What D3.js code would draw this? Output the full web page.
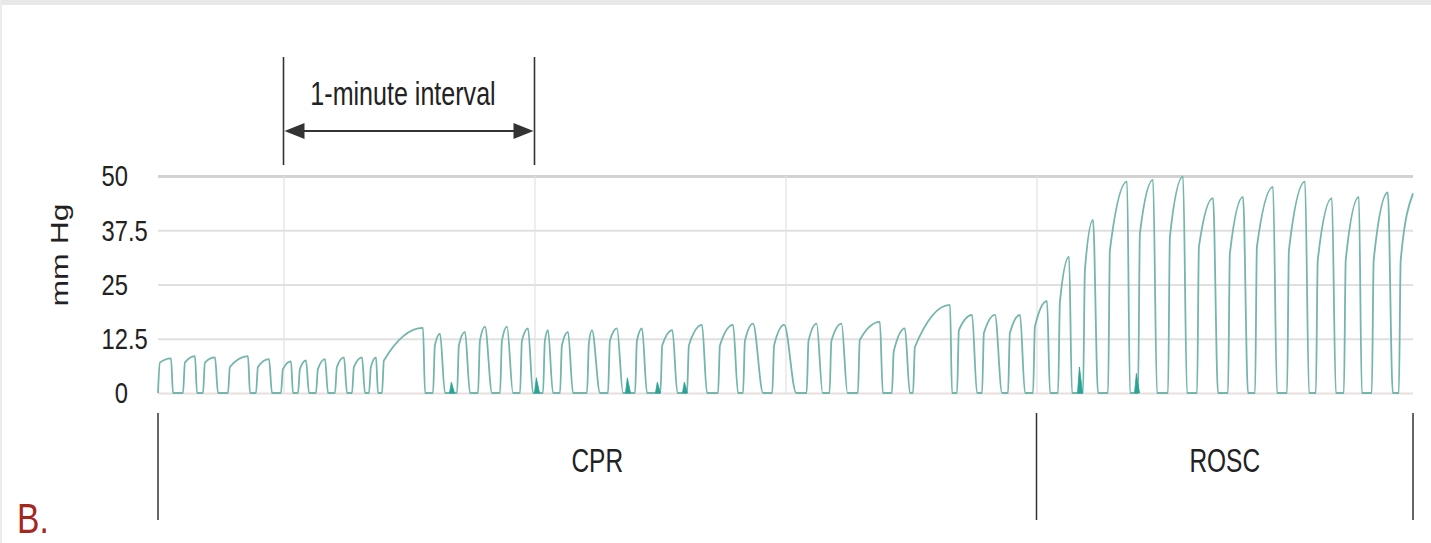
<!DOCTYPE html>
<html><head><meta charset="utf-8">
<script src="https://cdn.jsdelivr.net/npm/d3@7"></script>
<style>
html,body{margin:0;padding:0;background:#fff;}
svg{display:block;}
text{font-family:"Liberation Sans", Arial, Helvetica, sans-serif;}
</style></head><body>
<svg id="chart" width="1431" height="543"></svg>
<script>
// ---- data (time in seconds, values in mm Hg) ----
const yTicks = [0, 12.5, 25, 37.5, 50];
const minuteGrid = [30, 90, 150, 210];
const intervalSpan = [30, 90];
const intervalLabel = "1-minute interval";
const phaseBounds = [0, 210, 300];
const phaseLabels = ["CPR", "ROSC"];
const yLabel = "mm Hg";
const panelLabel = "B.";

const breathStart = [0.0, 5.98, 10.76, 16.73, 23.43, 29.40, 33.47, 37.77, 42.31, 46.38, 50.44, 53.55,
  65.74, 71.48, 76.50, 81.76, 86.54, 92.03, 96.10, 102.55, 107.57, 114.03, 120.09, 126.46, 133.88,
  139.85, 146.83, 155.05, 160.52, 167.30, 175.43, 180.48, 191.00, 196.98, 203.19, 209.17,
  215.15, 221.12, 227.10, 234.27, 241.44, 248.38, 255.78, 262.24, 269.89, 276.78, 283.47, 290.15, 296.61];
const breathEnd = [3.59, 9.32, 14.34, 21.99, 27.25, 32.27, 36.10, 40.64, 45.18, 49.48, 52.59, 63.83,
  68.61, 74.58, 79.84, 84.86, 89.64, 94.42, 99.21, 105.66, 111.16, 116.90, 124.16, 131.24, 138.66,
  144.64, 152.56, 158.88, 164.82, 173.27, 179.74, 189.81, 195.78, 201.76, 207.26, 213.23,
  218.49, 224.71, 232.36, 238.81, 245.98, 253.39, 260.56, 267.50, 275.15, 281.56, 287.77, 295.17, null];
const breathPeakTime = [3.11, 8.84, 13.63, 21.51, 26.54, 31.79, 35.38, 39.92, 44.46, 48.77, 52.11, 63.35,
  67.41, 73.39, 78.17, 83.43, 88.45, 93.23, 98.01, 103.75, 109.72, 115.70, 122.96, 130.04, 137.46,
  142.24, 149.69, 157.44, 163.39, 172.56, 178.54, 189.33, 194.59, 200.08, 206.06, 212.52,
  217.78, 223.51, 231.65, 237.86, 245.03, 252.20, 259.37, 266.54, 274.19, 280.61, 287.06, 293.98, 300];
const breathPlateau = [7.0, 7.0, 7.0, 6.0, 6.0, 5.5, 5.5, 5.5, 6.0, 6.0, 6.0, 7.5,
  11, 11, 12, 12, 12, 12, 11, 11.5, 12, 12, 11, 11, 11,
  12, 11, 12, 12, 12.2, 9.6, 10.6, 14.5, 13.8, 13.8, 15.3,
  21, 28.3, 32.9, 36.8, 36, 33.7, 32.2, 33.7, 32.9, 30.6, 30.6, 30.6, 30.6];
const breathPeak = [8.0, 8.5, 8.2, 8.5, 7.8, 7.3, 7.5, 7.8, 8.2, 8.2, 8.2, 15,
  13.7, 14.1, 15.3, 15.3, 14.9, 14.5, 14.1, 14.5, 14.9, 14.9, 14.5, 15.7, 15.7,
  16.0, 15.7, 16.0, 16.0, 16.4, 14.9, 20.3, 18, 18, 18, 21.2,
  31.4, 39.9, 48.7, 49.1, 49.9, 44.9, 45.2, 47.5, 48.7, 44.9, 45.2, 46.2, 46];
const artifactTime = [70.28, 90.60, 112.35, 119.52, 125.97, 220.41, 234.03];
const artifactHeight = [2.5, 3.5, 3.5, 2.5, 2.5, 6, 4.5];

// ---- drawing ----
const svg = d3.select("#chart");
const x = d3.scaleLinear().domain([0, 300]).range([158, 1413]);
const y = d3.scaleLinear().domain([0, 50]).range([393, 176]);
const riseTime = 0.45;

svg.append("rect").attr("x", 0).attr("y", 0).attr("width", 1431).attr("height", 5).attr("fill", "#e8e8e8");
svg.append("rect").attr("x", 0).attr("y", 0).attr("width", 2).attr("height", 543).attr("fill", "#ececec");

// horizontal grid
const gy = svg.append("g").attr("transform", `translate(${x(0)},0)`)
  .call(d3.axisLeft(y).tickValues(yTicks).tickSize(-(x.range()[1] - x.range()[0])).tickFormat(""));
gy.select(".domain").remove();
gy.selectAll(".tick line")
  .attr("stroke", d => d === 0 ? "#eadfe0" : (d === 50 ? "#d2d2d2" : "#e0e0e0"))
  .attr("stroke-width", d => d === 50 ? 3 : 2);

// vertical minute grid
const gx = svg.append("g").attr("transform", `translate(0,${y(0)})`)
  .call(d3.axisBottom(x).tickValues(minuteGrid).tickSize(-(y(0) - y(50))).tickFormat(""));
gx.select(".domain").remove();
gx.selectAll(".tick line").attr("stroke", "#e2e2e2").attr("stroke-width", 1.2);

// tick labels aligned on decimal point
const tl = svg.append("g").selectAll("g.lab").data(yTicks).join("g")
  .attr("transform", d => `translate(128,${y(d)}) scale(0.82,1)`);
tl.append("text").attr("text-anchor", "end").attr("dy", "0.36em")
  .attr("font-size", 29).attr("fill", "#222")
  .text(d => String(Math.floor(d)));
tl.append("text").attr("text-anchor", "start").attr("dy", "0.36em")
  .attr("font-size", 29).attr("fill", "#222")
  .text(d => { const s = String(d); const i = s.indexOf("."); return i >= 0 ? s.slice(i) : ""; });

// y label
svg.append("text").attr("transform", "translate(68,255) scale(0.72,1) rotate(-90)")
  .attr("text-anchor", "middle").attr("font-size", 32).attr("fill", "#222").text(yLabel);

// waveform
const pts = [];
breathStart.forEach((s, i) => {
  pts.push([s, 0]);
  pts.push([s + riseTime, breathPlateau[i]]);
  pts.push([breathPeakTime[i], breathPeak[i]]);
  if (breathEnd[i] !== null) pts.push([breathEnd[i], 0]);
});
const line = d3.line().x(d => x(d[0])).y(d => y(d[1])).curve(d3.curveMonotoneX);
svg.append("path").attr("d", line(pts)).attr("fill", "none")
  .attr("stroke", "#74b5ac").attr("stroke-width", 1.8).attr("stroke-linejoin", "round");

// artifacts (small dark teal spikes on baseline)
const area = d3.area().x(d => x(d[0])).y0(y(0)).y1(d => y(d[1]));
artifactTime.forEach((t, i) => {
  svg.append("path").attr("d", area([[t - 0.6, 0], [t - 0.15, artifactHeight[i]], [t + 0.15, artifactHeight[i] * 0.6], [t + 0.6, 0]]))
    .attr("fill", "#2aa396").attr("stroke", "#2aa396").attr("stroke-width", 0.8);
});

// 1-minute interval annotation
const ann = svg.append("g").attr("stroke", "#333").attr("fill", "#333");
intervalSpan.forEach(t => {
  ann.append("line").attr("x1", x(t)).attr("x2", x(t)).attr("y1", 57).attr("y2", 165).attr("stroke-width", 1.6);
});
const ay = 131, aL = x(intervalSpan[0]), aR = x(intervalSpan[1]);
ann.append("line").attr("x1", aL + 10).attr("x2", aR - 10).attr("y1", ay).attr("y2", ay).attr("stroke-width", 2.2);
ann.append("path").attr("d", `M${aL + 1},${ay} L${aL + 21},${ay - 8} L${aL + 21},${ay + 8} Z`).attr("stroke", "none");
ann.append("path").attr("d", `M${aR - 1},${ay} L${aR - 21},${ay - 8} L${aR - 21},${ay + 8} Z`).attr("stroke", "none");
svg.append("text").attr("transform", `translate(${(aL + aR) / 2 - 6},105) scale(0.76,1)`)
  .attr("text-anchor", "middle").attr("font-size", 33).attr("fill", "#222").text(intervalLabel);

// phase markers
phaseBounds.forEach(t => {
  svg.append("line").attr("x1", x(t)).attr("x2", x(t)).attr("y1", 413).attr("y2", 520)
    .attr("stroke", "#333").attr("stroke-width", 1.5);
});
phaseLabels.forEach((lab, i) => {
  const cx = (x(phaseBounds[i]) + x(phaseBounds[i + 1])) / 2;
  svg.append("text").attr("transform", `translate(${cx},472) scale(0.72,1)`)
    .attr("text-anchor", "middle").attr("font-size", 34).attr("fill", "#222").text(lab);
});

// panel label
svg.append("text").attr("transform", "translate(17,533) scale(0.8,1)")
  .attr("font-size", 42).attr("fill", "#a5281f").text(panelLabel);
</script>
</body></html>
